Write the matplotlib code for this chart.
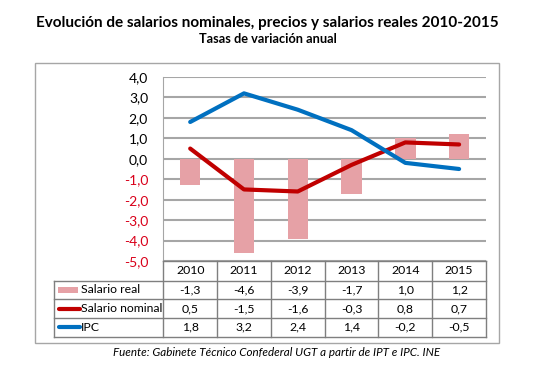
import matplotlib.pyplot as plt
from matplotlib.patches import Rectangle
from matplotlib.lines import Line2D

plt.rcParams['font.family'] = ['Lato', 'DejaVu Sans']

years = ['2010', '2011', '2012', '2013', '2014', '2015']
salario_real = [-1.3, -4.6, -3.9, -1.7, 1.0, 1.2]
salario_nominal = [0.5, -1.5, -1.6, -0.3, 0.8, 0.7]
ipc = [1.8, 3.2, 2.4, 1.4, -0.2, -0.5]
series_names = ['Salario real', 'Salario nominal', 'IPC']
y_ticks = [-5, -4, -3, -2, -1, 0, 1, 2, 3, 4]

C_BAR = '#E6A1A6'
C_NOM = '#C00000'
C_IPC = '#0070C0'
C_GRID = '#A6A6A6'
C_NEG = '#D9001A'

W, H = 553, 374
fig = plt.figure(figsize=(W / 100, H / 100), dpi=100)


def fx(px):
    return px / W


def fy(py):
    return 1 - py / H


# plot area in pixel coords
left, right, top, bottom = 163.3, 486, 77, 261
ax = fig.add_axes([fx(left), fy(bottom), fx(right - left), (bottom - top) / H])
x = list(range(len(years)))
ax.bar(x, salario_real, width=0.38, color=C_BAR, zorder=2)
ax.plot(x, salario_nominal, color=C_NOM, lw=3, solid_capstyle='round', zorder=3)
ax.plot(x, ipc, color=C_IPC, lw=3, solid_capstyle='round', zorder=3)
ax.set_xlim(-0.5, len(years) - 0.5)
ax.set_ylim(-5, 4)
ax.set_yticks(y_ticks)
ax.set_yticklabels([f'{v:.1f}'.replace('.', ',') for v in y_ticks], fontsize=10)
for lab, v in zip(ax.get_yticklabels(), y_ticks):
    lab.set_color(C_NEG if v < 0 else 'black')
ax.tick_params(axis='y', length=0, pad=11)
ax.set_xticks([])
ax.grid(axis='y', color=C_GRID, lw=1.5, zorder=0)
ax.set_axisbelow(True)
for s in ['top', 'right', 'bottom']:
    ax.spines[s].set_visible(False)
ax.spines['left'].set_color(C_GRID)
ax.patch.set_alpha(0)

# overlay in pixel coords for box, table and texts
ov = fig.add_axes([0, 0, 1, 1], zorder=-1)
ov.set_xlim(0, W)
ov.set_ylim(H, 0)
ov.axis('off')
ov.add_patch(Rectangle((35, 63), 463.7, 279.7, fill=False, ec=C_GRID, lw=1))

tab = fig.add_axes([0, 0, 1, 1], zorder=5)
tab.set_xlim(0, W)
tab.set_ylim(H, 0)
tab.axis('off')
tab.patch.set_alpha(0)

rows = [261, 280.5, 299, 318, 336.7]
lab_left = 54.3
colw = (right - left) / len(years)
cols = [left + i * colw for i in range(len(years) + 1)]
tc = '#7F7F7F'
tab.plot([left, right], [rows[0], rows[0]], color=tc, lw=1)
for r in rows[1:]:
    tab.plot([lab_left, right], [r, r], color=tc, lw=1)
tab.plot([lab_left, lab_left], [rows[1], rows[-1]], color=tc, lw=1)
for c in cols:
    tab.plot([c, c], [rows[0], rows[-1]], color=tc, lw=1)

fs = 8.8
for i, yr in enumerate(years):
    cx = (cols[i] + cols[i + 1]) / 2
    tab.text(cx, (rows[0] + rows[1]) / 2, yr, ha='center', va='center', fontsize=fs)
for j, vals in enumerate([salario_real, salario_nominal, ipc]):
    cy = (rows[j + 1] + rows[j + 2]) / 2
    for i, v in enumerate(vals):
        cx = (cols[i] + cols[i + 1]) / 2
        tab.text(cx, cy, f'{v:.1f}'.replace('.', ','), ha='center', va='center', fontsize=fs)
    tab.text(81, cy, series_names[j], ha='left', va='center', fontsize=fs)

cy0 = (rows[1] + rows[2]) / 2
tab.add_patch(Rectangle((57.7, cy0 - 3), 20.6, 6, color=C_BAR, lw=0))
for j, col in [(1, C_NOM), (2, C_IPC)]:
    cy = (rows[j + 1] + rows[j + 2]) / 2
    tab.add_line(Line2D([58.5, 79.5], [cy, cy], color=col, lw=3, solid_capstyle='round'))

fig.text(fx(267.5), fy(22.5), 'Evolución de salarios nominales, precios y salarios reales 2010-2015',
         ha='center', va='center', fontsize=11, fontweight='bold')
fig.text(fx(267.5), fy(39), 'Tasas de variación anual', ha='center', va='center',
         fontsize=9.2, fontweight='bold')
fig.text(fx(276.5), fy(353), 'Fuente: Gabinete Técnico Confederal UGT a partir de IPT e IPC. INE',
         ha='center', va='center', fontsize=8.4, style='italic')

fig.savefig('out.png', dpi=100)
